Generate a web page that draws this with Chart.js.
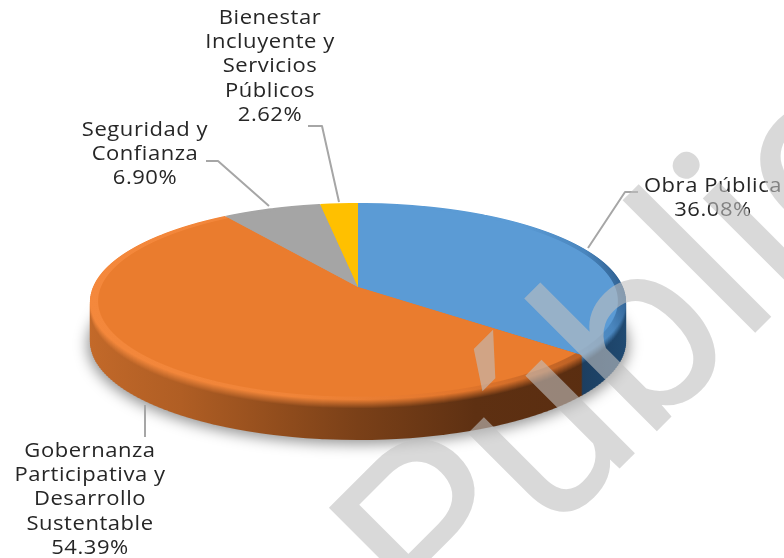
<!DOCTYPE html>
<html><head><meta charset="utf-8">
<style>html,body{margin:0;padding:0;background:#fff}canvas{display:block}</style>
<script src="https://cdn.jsdelivr.net/npm/chart.js@4"></script>
</head><body><canvas id="c" width="784" height="558"></canvas>
<script>
const categories = ["Obra Pública","Gobernanza Participativa y Desarrollo Sustentable","Seguridad y Confianza","Bienestar Incluyente y Servicios Públicos"];
const values = [36.08,54.39,6.90,2.62];
const faceColors = ["#5b9bd5","#ea7c2e","#a5a5a5","#ffc000"];
const labelLines = [
  ["Obra Pública","36.08%"],
  ["Gobernanza","Participativa y","Desarrollo","Sustentable","54.39%"],
  ["Seguridad y","Confianza","6.90%"],
  ["Bienestar","Incluyente y","Servicios","Públicos","2.62%"]
];
const labelCentres = [713,90,145,270];
const labelFirstBaselines = [192,457,136,24];
const leaderLines = [
  [[588,248],[625,192],[638,192]],
  [[145,405],[145,437]],
  [[269,206],[218,161],[206,161]],
  [[339,202],[322,126],[308,126]]
];
const watermark = "Público";

const APEX=287, A=96.4, B=-0.147, C=265, DEPTH=40;
const sideStops = [
  [[560,[28,62,96]],[600,[30,70,108]],[640,[34,78,118]]],
  [[90,[196,106,42]],[200,[176,94,36]],[358,[122,64,24]],[460,[94,48,18]],[640,[88,44,15]]],
  [[90,[110,110,110]],[640,[110,110,110]]],
  [[90,[170,128,0]],[640,[170,128,0]]]
];
const rimStops = [
  [[358,[91,155,213]],[540,[91,155,213]],[600,[74,134,190]],[630,[44,92,140]]],
  [[90,[244,136,60]],[300,[240,132,56]],[450,[226,118,44]],[600,[176,90,34]]],
  [[90,[165,165,165]],[640,[165,165,165]]],
  [[90,[255,192,0]],[640,[255,192,0]]]
];
function grad(ctx,a,b,t){
  const g=ctx.createLinearGradient(80,0,640,0);
  const xs=[...new Set([...a.map(s=>s[0]),...b.map(s=>s[0])])].sort((p,q)=>p-q);
  const at=(st,x)=>{ if(x<=st[0][0])return st[0][1]; for(let i=1;i<st.length;i++){ if(x<=st[i][0]){const f=(x-st[i-1][0])/(st[i][0]-st[i-1][0]);return st[i][1].map((v,k)=>st[i-1][1][k]+(v-st[i-1][1][k])*f);} } return st[st.length-1][1]; };
  xs.forEach(x=>{const p=at(a,x),q=at(b,x);const c=p.map((v,k)=>Math.round(v+(q[k]-v)*t));g.addColorStop(Math.min(1,Math.max(0,(x-80)/560)),`rgb(${c.join(',')})`);});
  return g;
}
function drawFace(ctx,els,fills,offset,step,scale){
  const el0=els[0],CX=el0.x,CY=el0.y,R=el0.outerRadius;
  const y0=Math.floor(APEX-84*scale),y1=Math.ceil(APEX+113*scale);
  for(let Y=y0;Y<y1;Y+=step){
    const yc=Y+step/2-APEX,yp=yc/scale,v=yp/(A-B*yp),den=1+B*v;
    const sx=scale*C/R/den,k=scale*A/den/den;
    ctx.save();
    ctx.beginPath();ctx.rect(0,Y+offset,784,step);ctx.clip();
    ctx.transform(sx,0,0,k/R,CX*(1-sx),APEX+offset+yc-k*CY/R-k*v);
    els.forEach((el,i)=>{
      const orig=el.options,o=Object.create(orig);
      Object.defineProperty(o,'backgroundColor',{value:fills[i]});
      el.options=o;el.draw(ctx);el.options=orig;
    });
    ctx.restore();
  }
}
const pie3d={id:'pie3d',
  beforeDatasetsDraw(chart){
    const ctx=chart.ctx,els=chart.getDatasetMeta(0).data;
    const off=document.createElement('canvas');off.width=784;off.height=558;
    const oc=off.getContext('2d');
    drawFace(oc,els,els.map(()=>'rgba(0,0,0,.42)'),DEPTH+3,2,1.01);
    ctx.save();ctx.filter='blur(7px)';ctx.drawImage(off,0,0);ctx.restore();
    for(let d=DEPTH;d>=1;d--){
      const t=Math.min(1,d/9);
      drawFace(ctx,els,els.map((_,i)=>grad(ctx,rimStops[i],sideStops[i],t)),d,2,1);
    }
    drawFace(ctx,els,els.map((_,i)=>grad(ctx,rimStops[i],rimStops[i],0)),0,1,1);
    drawFace(ctx,els,faceColors,0,1,0.97);
    return false;
  },
  afterDraw(chart){
    const ctx=chart.ctx;
    ctx.save();
    ctx.strokeStyle='#a6a6a6';ctx.lineWidth=2;ctx.lineJoin='round';
    leaderLines.forEach(l=>{ctx.beginPath();l.forEach((p,i)=>i?ctx.lineTo(p[0],p[1]):ctx.moveTo(p[0],p[1]));ctx.stroke();});
    ctx.fillStyle='#262626';ctx.font='20px "Open Sans"';ctx.textAlign='center';ctx.textBaseline='alphabetic';
    ctx.letterSpacing='0.5px';
    labelLines.forEach((ls,i)=>ls.forEach((s,j)=>{
      ctx.save();ctx.translate(labelCentres[i],labelFirstBaselines[i]+j*24.2);ctx.scale(1.1,1);ctx.fillText(s,0,0);ctx.restore();
    }));
    ctx.translate(440,648);ctx.rotate(-Math.PI/4);
    ctx.letterSpacing='-3px';
    ctx.font='450 250px Roboto';ctx.textAlign='left';ctx.fillStyle='rgba(191,191,191,0.6)';
    ctx.fillText(watermark,0,0);
    ctx.restore();
  }
};
new Chart(document.getElementById('c'),{
  type:'pie',
  data:{labels:categories,datasets:[{data:values,backgroundColor:faceColors,borderWidth:0}]},
  options:{responsive:false,animation:false,
    layout:{padding:{left:90,right:158,top:19,bottom:3}},
    plugins:{legend:{display:false},tooltip:{enabled:false}}},
  plugins:[pie3d]
});
</script></body></html>
